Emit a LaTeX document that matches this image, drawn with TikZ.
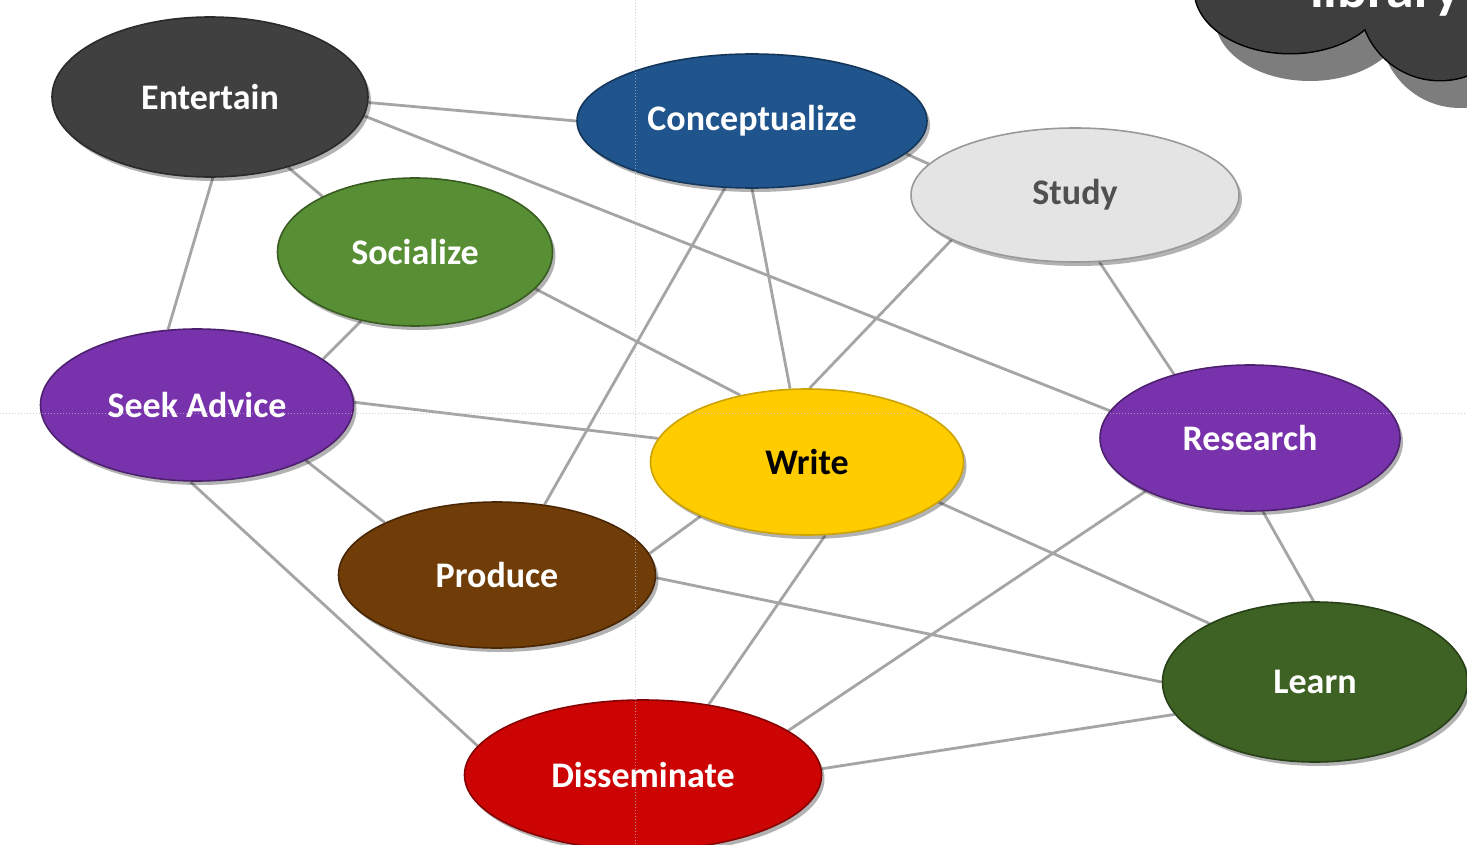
\documentclass[tikz,border=0pt]{standalone}
\usepackage{fontspec}
\setmainfont{Carlito}
\usetikzlibrary{shapes.geometric,shadows,backgrounds}
\definecolor{cEnt}{RGB}{64,64,64}
\definecolor{cCon}{RGB}{31,84,140}
\definecolor{cStu}{RGB}{228,228,228}
\definecolor{cSoc}{RGB}{88,142,52}
\definecolor{cPur}{RGB}{120,50,172}
\definecolor{cWri}{RGB}{255,204,0}
\definecolor{cPro}{RGB}{112,60,8}
\definecolor{cLea}{RGB}{62,98,36}
\definecolor{cDis}{RGB}{204,4,4}
\definecolor{cEdge}{RGB}{165,165,165}
\definecolor{cGuide}{RGB}{185,185,200}
\definecolor{cCloud}{RGB}{62,62,62}
\definecolor{cCloudSh}{RGB}{125,125,125}
\tikzset{
  bub/.style={ellipse, inner sep=0pt, fill=#1, draw=#1!65!black, line width=1.6pt,
    drop shadow={shadow xshift=3pt, shadow yshift=-4pt, fill=black, opacity=0.3},
    font=\bfseries\fontsize{36}{40}\selectfont, text=white},
  edge/.style={draw=cEdge, line width=2.8pt},
  guide/.style={draw=cGuide, line width=1pt, dotted}
}
\begin{document}
\begin{tikzpicture}[x=1pt,y=-1pt]
\useasboundingbox (0,0) rectangle (1467,845);

% nodes
\node[bub=cEnt, minimum width=316pt, minimum height=160pt] (ent) at (210,97) {Entertain};
\node[bub=cCon, minimum width=350pt, minimum height=134pt] (con) at (752,121) {Conceptualize};
\node[bub=cStu, draw=gray!80, minimum width=328pt, minimum height=134pt, text={rgb,255:red,80;green,80;blue,80}] (stu) at (1075,195) {Study};
\node[bub=cSoc, minimum width=275pt, minimum height=148pt] (soc) at (415,252) {Socialize};
\node[bub=cPur, minimum width=313pt, minimum height=152pt] (see) at (197,405) {Seek Advice};
\node[bub=cWri, draw=cWri!80!black, minimum width=313pt, minimum height=146pt, text=black] (wri) at (807,462) {Write};
\node[bub=cPur, minimum width=300pt, minimum height=146pt] (res) at (1250,438) {Research};
\node[bub=cPro, minimum width=317pt, minimum height=146pt] (pro) at (497,575) {Produce};
\node[bub=cLea, minimum width=305pt, minimum height=160pt] (lea) at (1315,682) {Learn};
\node[bub=cDis, minimum width=357pt, minimum height=150pt] (dis) at (643,775) {Disseminate};

% connectors
\begin{pgfonlayer}{background}
\fill[white] (0,0) rectangle (1467,845);
\draw[edge] (ent.-2) -- (con.180);
\draw[edge] (ent.-7) -- (res.169);
\draw[edge] (ent.-42) -- (soc.149);
\draw[edge] (ent.-88) -- (see.111);
\draw[edge] (con.-12) -- (stu.168);
\draw[edge] (con.-112) -- (pro.56);
\draw[edge] (con.-90) -- (wri.103);
\draw[edge] (stu.200) -- (wri.88);
\draw[edge] (stu.-70) -- (res.140);
\draw[edge] (soc.-128) -- (see.20);
\draw[edge] (soc.-17) -- (wri.135);
\draw[edge] (see.1) -- (wri.171);
\draw[edge] (see.-27) -- (pro.155);
\draw[edge] (see.-95) -- (dis.170);
\draw[edge] (wri.207) -- (pro.8);
\draw[edge] (wri.-17) -- (lea.151);
\draw[edge] (wri.-76) -- (dis.47);
\draw[edge] (res.-153) -- (dis.17);
\draw[edge] (res.-80) -- (lea.91);
\draw[edge] (pro.-1) -- (lea.180);
\draw[edge] (dis.2) -- (lea.193);
\end{pgfonlayer}

% guides
\coordinate (gt) at (635,0);
\coordinate (gb) at (635,845);
\coordinate (gl) at (0,413);
\coordinate (gr) at (1467,413);
\draw[guide, opacity=0.7] (gt) -- (gb);
\draw[guide, opacity=0.7] (gl) -- (gr);

% cloud (top right, partly off the page)
\begin{scope}
\clip (0,0) rectangle (1467,845);
\fill[cCloudSh] (1310,18) ellipse [x radius=95, y radius=63];
\fill[cCloudSh] (1460,28) circle [radius=80];
\draw[black, line width=3pt] (1290,-10) ellipse [x radius=95, y radius=63];
\draw[black, line width=3pt] (1440,0) circle [radius=80];
\fill[cCloud] (1290,-10) ellipse [x radius=95, y radius=63];
\fill[cCloud] (1440,0) circle [radius=80];
\node[anchor=base west, inner sep=0pt, text=white, font=\bfseries\fontsize{56}{60}\selectfont] (lib) at (1310,8) {library};
\end{scope}
\end{tikzpicture}
\end{document}
